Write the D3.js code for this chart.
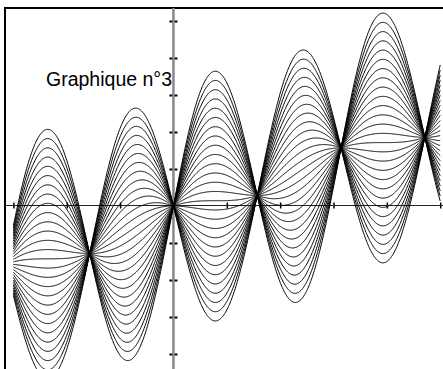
<!DOCTYPE html>
<html>
<head>
<meta charset="utf-8">
<script src="https://cdn.jsdelivr.net/npm/d3@7"></script>
<style>
  body { margin: 0; background: #fff; }
  .curve { fill: none; stroke: #000; stroke-width: 1; }
  .title { font-family: "Liberation Sans", Arial, sans-serif; font-size: 19.5px; fill: #000; }
</style>
</head>
<body>
<div id="chart"></div>
<script>
// family y = (x - sin²x)/2 + c·sin(2x), one curve per coefficient c
const coefficients = [-3.25, -3, -2.75, -2.5, -2.25, -2, -1.75, -1.5, -1.25, -1, -0.75, -0.5, -0.25, 0,
                      0.25, 0.5, 0.75, 1, 1.25, 1.5, 1.75, 2, 2.25, 2.5, 2.75, 3, 3.25, 3.5];
const xExtent = [-3, 5];
const xTicks = [-3, -2, -1, 1, 2, 3, 4, 5];
const yTicks = [-4, -3, -2, -1, 1, 2, 3, 4, 5];
const title = 'Graphique n°3';

const width = 443;
const height = 369;
const frame = { left: 5, top: 8 };

const x = d3.scaleLinear().domain([-3, 5]).range([13.4, 440.2]);
const y = d3.scaleLinear().domain([0, 5]).range([206, 21]);

const svg = d3.select('#chart')
    .append('svg')
    .attr('width', width)
    .attr('height', height);

// frame (left and top edges only are visible)
svg.append('path')
    .attr('d', `M${frame.left},${height} V${frame.top} H${width}`)
    .attr('fill', 'none')
    .attr('stroke', '#000')
    .attr('stroke-width', 2);

// horizontal axis
const xAxis = svg.append('g')
    .attr('transform', 'translate(0,205.5)')
    .call(d3.axisBottom(x).tickValues(xTicks).tickFormat('').tickSizeOuter(0));
xAxis.select('.domain').remove();
xAxis.selectAll('.tick line')
    .attr('y1', -3).attr('y2', 3)
    .attr('stroke', '#000').attr('stroke-width', 1.5);
xAxis.append('line')
    .attr('x1', frame.left).attr('x2', width)
    .attr('stroke', '#222').attr('stroke-width', 1);

// vertical axis
const yAxis = svg.append('g')
    .attr('transform', `translate(${x(0)},0)`)
    .call(d3.axisRight(y).tickValues(yTicks).tickFormat('').tickSizeOuter(0));
yAxis.select('.domain').remove();
yAxis.append('line')
    .attr('y1', frame.top).attr('y2', height)
    .attr('stroke', '#888').attr('stroke-width', 2.5);
yAxis.selectAll('.tick line')
    .attr('x1', -4).attr('x2', 4)
    .attr('stroke', '#000').attr('stroke-width', 2);

// curves
const xs = d3.range(xExtent[0], xExtent[1] + 1e-9, 0.01);
const line = d3.line()
    .x(d => x(d[0]))
    .y(d => y(d[1]));

svg.append('g')
    .selectAll('path')
    .data(coefficients)
    .join('path')
    .attr('class', 'curve')
    .attr('d', c => line(xs.map(t => [t, (t - Math.sin(t) ** 2) / 2 + c * Math.sin(2 * t)])));

svg.append('text')
    .attr('class', 'title')
    .attr('x', 172)
    .attr('y', 86)
    .attr('text-anchor', 'end')
    .text(title);
</script>
</body>
</html>
